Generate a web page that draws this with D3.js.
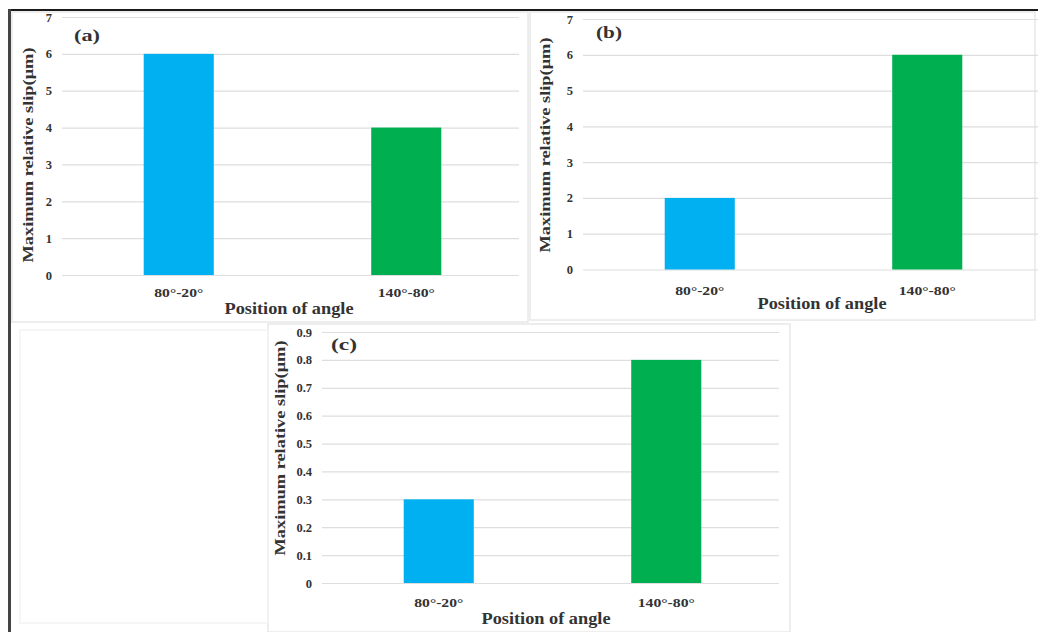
<!DOCTYPE html>
<html>
<head>
<meta charset="utf-8">
<script src="https://cdn.jsdelivr.net/npm/d3@7"></script>
<style>
  body { margin: 0; background: #fff; }
  svg { display: block; }
  text { font-family: "Liberation Serif", "Times New Roman", serif; font-weight: bold; fill: #333; }
</style>
</head>
<body>
<div id="chart"></div>
<script>
const width = 1038;
const height = 632;

// data
const categories = ["80°-20°", "140°-80°"];
const slipA = [6, 4];
const slipB = [2, 6];
const slipC = [0.3, 0.8];
const ticksAB = [0, 1, 2, 3, 4, 5, 6, 7];
const ticksC = [0, 0.1, 0.2, 0.3, 0.4, 0.5, 0.6, 0.7, 0.8, 0.9];
const barColors = ["#00B0F0", "#00B050"];
const xTitle = "Position of angle";
const yTitle = "Maximum relative slip(μm)";

const svg = d3.select("#chart").append("svg")
    .attr("width", width)
    .attr("height", height);

// faint panel frames
const frames = [
    [12, 12, 516, 310],
    [530, 12, 505, 308],
    [268, 324, 522, 308],
    [20, 330, 248, 293]
];
svg.append("g")
    .selectAll("rect")
    .data(frames)
    .join("rect")
    .attr("x", d => d[0])
    .attr("y", d => d[1])
    .attr("width", d => d[2])
    .attr("height", d => d[3])
    .attr("fill", "none")
    .attr("stroke", (d, i) => i == 3 ? "#f3f3f3" : "#e8e8e8")
    .attr("stroke-width", 1.5);

const panels = [
    { tag: "(a)", values: slipA, ticks: ticksAB, max: 7, fmt: d3.format("d"),
      left: 65, right: 520, y0: 275, y1: 17,
      tagX: 74, tagY: 41, yTitleX: 28, yTitleY: 155,
      catY: 297, titleX: 289, titleY: 314 },
    { tag: "(b)", values: slipB, ticks: ticksAB, max: 7, fmt: d3.format("d"),
      left: 586, right: 1041, y0: 269.5, y1: 19,
      tagX: 596, tagY: 38, yTitleX: 545, yTitleY: 145,
      catY: 295, titleX: 822, titleY: 309 },
    { tag: "(c)", values: slipC, ticks: ticksC, max: 0.9, fmt: d => d === 0 ? "0" : d3.format(".1f")(d),
      left: 325, right: 780, y0: 583, y1: 332,
      tagX: 331, tagY: 350, yTitleX: 280, yTitleY: 448,
      catY: 607, titleX: 546, titleY: 624 }
];

function drawPanel(p) {
    const g = svg.append("g");

    const x = d3.scaleBand()
        .domain(categories)
        .range([p.left, p.right])
        .paddingInner(0.692)
        .paddingOuter(0.346);

    const y = d3.scaleLinear()
        .domain([0, p.max])
        .range([p.y0, p.y1]);

    // gridlines + tick labels via axis
    const axis = d3.axisLeft(y)
        .tickValues(p.ticks)
        .tickFormat(p.fmt)
        .tickSize(-(p.right - p.left + 2))
        .tickPadding(10);

    const ax = g.append("g")
        .attr("transform", `translate(${p.left - 3},0)`)
        .call(axis);
    ax.select(".domain").remove();
    ax.selectAll(".tick line")
        .attr("stroke", "#dedede")
        .attr("stroke-width", 1.2);
    ax.selectAll(".tick text")
        .attr("font-size", 12.5)
        .attr("font-family", "Liberation Serif")
        .attr("fill", "#333");

    g.append("g")
        .selectAll("rect")
        .data(p.values)
        .join("rect")
        .attr("x", (d, i) => x(categories[i]))
        .attr("width", x.bandwidth())
        .attr("y", d => y(d))
        .attr("height", d => y(0) - y(d))
        .attr("fill", (d, i) => barColors[i]);

    g.append("g")
        .selectAll("text")
        .data(categories)
        .join("text")
        .attr("x", d => x(d) + x.bandwidth() / 2)
        .attr("y", p.catY)
        .attr("text-anchor", "middle")
        .attr("font-size", 11.5)
        .attr("textLength", (d, i) => i == 0 ? 49 : 57)
        .attr("lengthAdjust", "spacingAndGlyphs")
        .text(d => d);

    g.append("text")
        .attr("x", p.titleX)
        .attr("y", p.titleY)
        .attr("text-anchor", "middle")
        .attr("font-size", 16)
        .attr("textLength", 129)
        .attr("lengthAdjust", "spacingAndGlyphs")
        .text(xTitle);

    g.append("text")
        .attr("transform", `translate(${p.yTitleX + 5},${p.yTitleY}) rotate(-90)`)
        .attr("text-anchor", "middle")
        .attr("font-size", 14)
        .attr("textLength", 215)
        .attr("lengthAdjust", "spacingAndGlyphs")
        .text(yTitle);

    g.append("text")
        .attr("x", p.tagX)
        .attr("y", p.tagY)
        .attr("font-size", 17)
        .attr("textLength", 26)
        .attr("lengthAdjust", "spacingAndGlyphs")
        .text(p.tag);
}

panels.forEach(drawPanel);

// dark outer border, top and left
svg.append("line")
    .attr("x1", 8).attr("x2", width)
    .attr("y1", 10).attr("y2", 10)
    .attr("stroke", "#1a1a1a")
    .attr("stroke-width", 2);
svg.append("line")
    .attr("x1", 9.5).attr("x2", 9.5)
    .attr("y1", 9).attr("y2", height)
    .attr("stroke", "#444")
    .attr("stroke-width", 3);
</script>
</body>
</html>
